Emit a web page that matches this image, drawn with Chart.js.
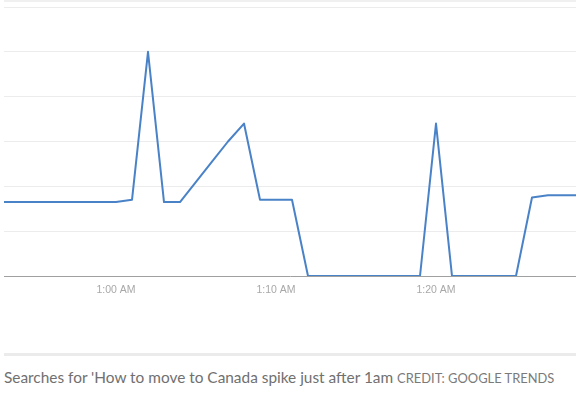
<!DOCTYPE html>
<html>
<head>
<meta charset="utf-8">
<script src="https://cdn.jsdelivr.net/npm/chart.js@4.4.0/dist/chart.umd.min.js"></script>
<style>
  body { margin: 0; background: #fff; width: 580px; height: 395px; overflow: hidden; }
  #wrap { position: absolute; left: 4px; top: 0; width: 572px; height: 300px; }
  #wrap::before { content: ""; position: absolute; left: 0; right: 0; top: 0; height: 2px; background: #f0f0f0; }
  #rule { position: absolute; left: 4px; top: 353px; width: 572px; height: 3px; background: #ebebeb; }
  #caption { position: absolute; left: 4px; top: 368px; font-family: Lato, "Open Sans", sans-serif; font-size: 15.4px; color: #707070; white-space: nowrap; }
  #caption span { font-size: 12.9px; color: #7a7a7a; }
</style>
</head>
<body>
<div id="wrap"><canvas id="chart"></canvas></div>
<div id="rule"></div>
<div id="caption">Searches for 'How to move to Canada spike just after 1am <span>CREDIT: GOOGLE TRENDS</span></div>
<script>
// minutes relative to 1:00 AM
const minutes = [-7, -6, -5, -4, -3, -2, -1, 0, 1, 2, 3, 4, 5, 6, 7, 8, 9, 10, 11, 12, 13, 14, 15, 16, 17, 18, 19, 20, 21, 22, 23, 24, 25, 26, 27, 28, 29];
const interest = [33, 33, 33, 33, 33, 33, 33, 33, 34, 100, 33, 33, 42, 51, 60, 68, 34, 34, 34, 0, 0, 0, 0, 0, 0, 0, 0, 68, 0, 0, 0, 0, 0, 35, 36, 36, 36];
const tickMinutes = [0, 10, 20];
const tickLabels = ["1:00 AM", "1:10 AM", "1:20 AM"];

const points = minutes.map((m, i) => ({ x: m, y: interest[i] }));

const ctx = document.getElementById("chart").getContext("2d");
new Chart(ctx, {
  type: "line",
  data: {
    datasets: [
      {
        data: points,
        borderColor: "#4a82c8",
        borderWidth: 2,
        borderJoinStyle: "round",
        pointRadius: 0,
        tension: 0,
        fill: false,
        clip: 0,
      },
    ],
  },
  options: {
    responsive: true,
    maintainAspectRatio: false,
    animation: false,
    layout: { padding: { top: 7, left: 0, right: 0, bottom: 0 } },
    plugins: { legend: { display: false }, tooltip: { enabled: false } },
    scales: {
      x: {
        type: "linear",
        min: -7,
        max: 28.75,
        afterBuildTicks: (axis) => {
          axis.ticks = tickMinutes.map((v) => ({ value: v }));
        },
        afterFit: (axis) => {
          axis.height = 24;
        },
        ticks: {
          autoSkip: false,
          maxRotation: 0,
          padding: 8,
          color: "#a8a8a8",
          font: { family: "Arial, 'Liberation Sans'", size: 10.5 },
          callback: (v) => tickLabels[tickMinutes.indexOf(v)],
        },
        grid: { color: "transparent", drawTicks: false },
        border: { display: true, color: "#a0a0a0", width: 1 },
      },
      y: {
        min: 0,
        max: 120,
        afterFit: (axis) => {
          axis.width = 0;
        },
        ticks: { display: false, stepSize: 20 },
        grid: { color: "#ececec", drawTicks: false },
        border: { display: false },
      },
    },
  },
});
</script>
</body>
</html>
